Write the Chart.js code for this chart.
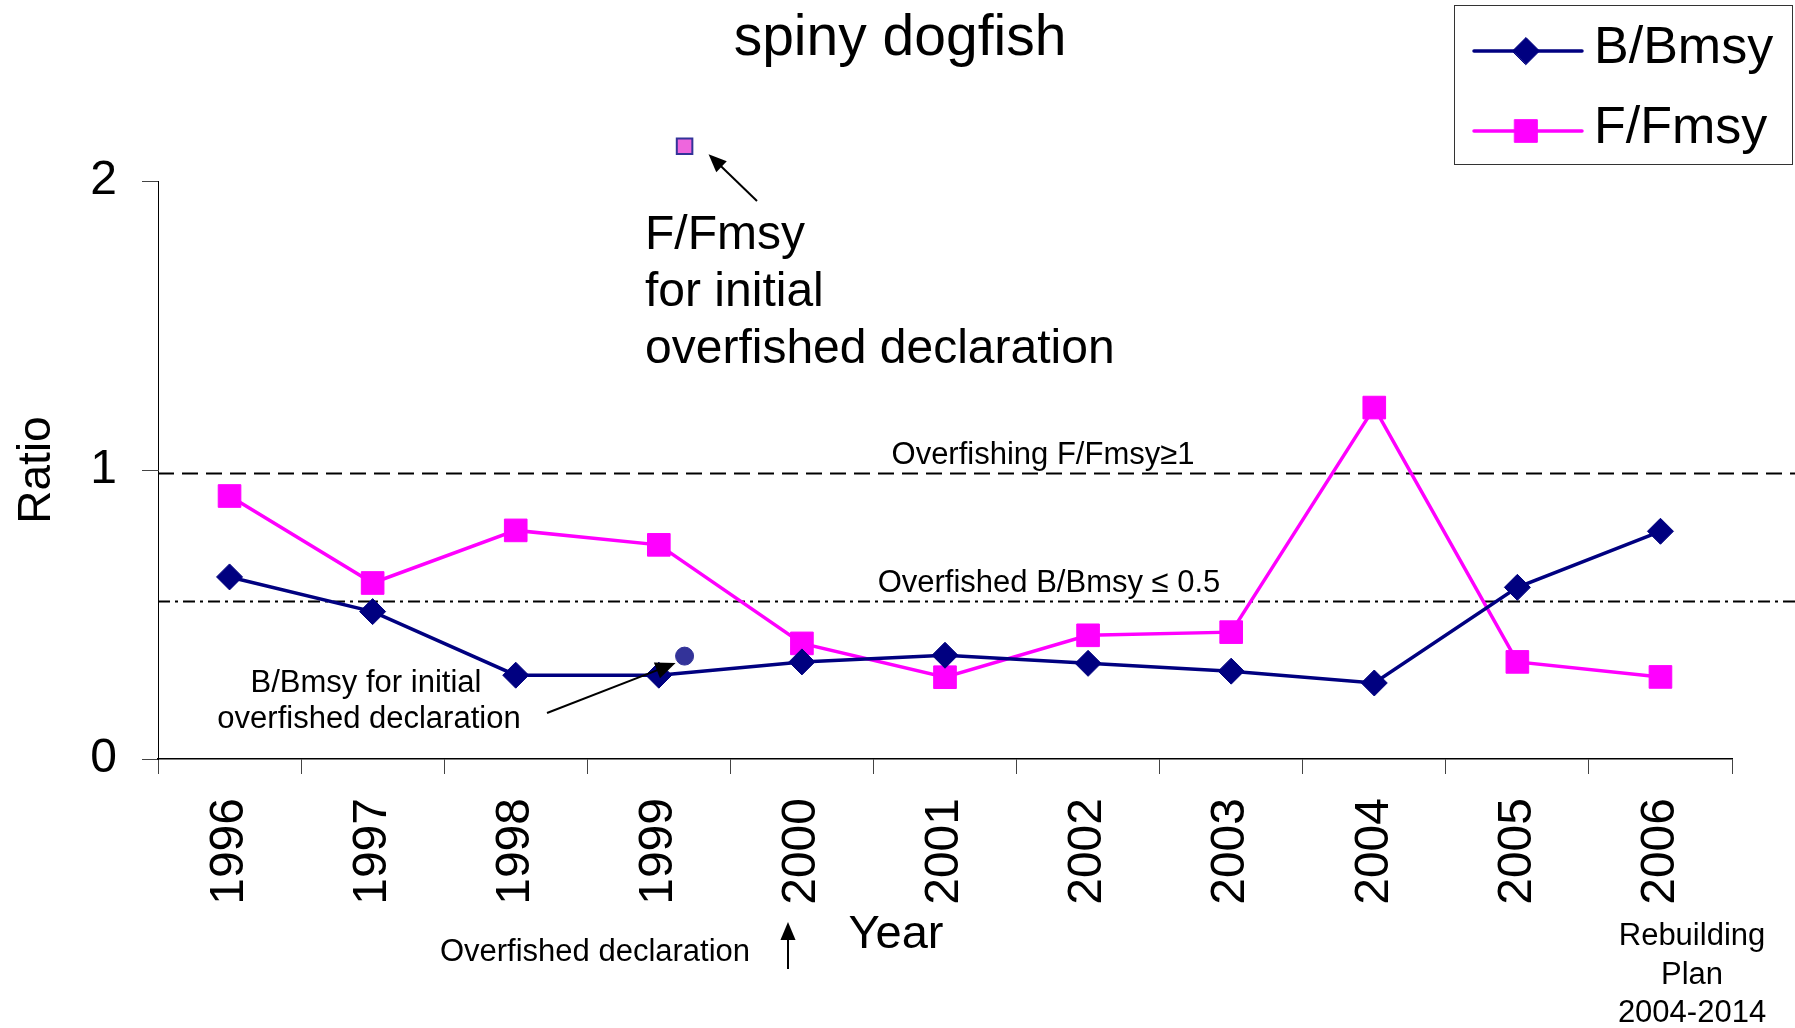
<!DOCTYPE html>
<html>
<head>
<meta charset="utf-8">
<title>spiny dogfish</title>
<script src="https://cdn.jsdelivr.net/npm/chart.js@4.4.0/dist/chart.umd.min.js"></script>
<style>
    html, body { margin: 0; padding: 0; background: #fff; }
    #wrap { width: 1795px; height: 1028px; }
</style>
</head>
<body>
<div id="wrap"><canvas id="myChart" width="1795" height="1028"></canvas></div>
<script>
//-------------------------------------------------- Data
const years = ['1996', '1997', '1998', '1999', '2000', '2001', '2002', '2003', '2004', '2005', '2006'];
const bBmsy = [0.63, 0.51, 0.29, 0.29, 0.336, 0.359, 0.331, 0.304, 0.263, 0.594, 0.788];
const fFmsy = [0.91, 0.609, 0.791, 0.741, 0.40, 0.283, 0.428, 0.439, 1.216, 0.336, 0.284];
const yTicks = [0, 1, 2];
// reference levels drawn across the plot
const overfishingLevel = 0.99;
const overfishedLevel = 0.547;
// values at the initial overfished declaration (between 1999 and 2000)
const initialF = [{ x: 3.18, y: 2.12 }];
const initialB = [{ x: 3.18, y: 0.356 }];
//^^^^^^^^^^^^^^^^^^^^^^^^^^^^^^^^^^^^^^^^^^^^^^^^^^ Data

const FONT = '"Liberation Sans", Arial, Helvetica, sans-serif';
const NAVY = '#000080';
const PINK = '#FF00FF';

function font(size) {
    return size + 'px ' + FONT;
}

// straight arrow with a filled head at (x2, y2)
function arrow(ctx, x1, y1, x2, y2, head) {
    const a = Math.atan2(y2 - y1, x2 - x1);
    const w = head * 0.42;
    ctx.beginPath();
    ctx.moveTo(x1, y1);
    ctx.lineTo(x2 - Math.cos(a) * head * 0.8, y2 - Math.sin(a) * head * 0.8);
    ctx.stroke();
    ctx.beginPath();
    ctx.moveTo(x2, y2);
    ctx.lineTo(x2 - head * Math.cos(a) + w * Math.sin(a), y2 - head * Math.sin(a) - w * Math.cos(a));
    ctx.lineTo(x2 - head * Math.cos(a) - w * Math.sin(a), y2 - head * Math.sin(a) + w * Math.cos(a));
    ctx.closePath();
    ctx.fill();
}

function lines(ctx, arr, x, y, step) {
    arr.forEach((t, i) => ctx.fillText(t, x, y + i * step));
}

const decorations = {
    id: 'decorations',
    beforeDatasetsDraw(chart) {
        const ctx = chart.ctx;
        const ys = chart.scales.y;
        const left = chart.chartArea.left;
        ctx.save();
        ctx.strokeStyle = '#000';
        ctx.lineWidth = 2;
        // overfishing line
        let py = Math.round(ys.getPixelForValue(overfishingLevel)) + 0.5;
        ctx.setLineDash([16, 8]);
        ctx.beginPath(); ctx.moveTo(left, py); ctx.lineTo(chart.width, py); ctx.stroke();
        ctx.fillStyle = '#000';
        ctx.font = font(31);
        ctx.textAlign = 'center';
        ctx.textBaseline = 'alphabetic';
        ctx.fillText('Overfishing F/Fmsy\u22651', 1043, py - 10);
        // overfished line
        py = Math.round(ys.getPixelForValue(overfishedLevel)) + 0.5;
        ctx.setLineDash([12, 5, 3, 5]);
        ctx.beginPath(); ctx.moveTo(left, py); ctx.lineTo(chart.width, py); ctx.stroke();
        ctx.fillText('Overfished B/Bmsy \u2264 0.5', 1049, py - 10);
        ctx.restore();
    },
    afterDraw(chart) {
        const ctx = chart.ctx;
        const x2 = chart.scales.x2;
        const ys = chart.scales.y;
        ctx.save();
        ctx.fillStyle = '#000';
        ctx.strokeStyle = '#000';
        ctx.textBaseline = 'alphabetic';

        // title
        ctx.textAlign = 'center';
        ctx.font = font(57);
        ctx.fillText('spiny dogfish', 900, 55);

        // y axis title
        ctx.save();
        ctx.translate(50, 470);
        ctx.rotate(-Math.PI / 2);
        ctx.font = font(46);
        ctx.fillText('Ratio', 0, 0);
        ctx.restore();

        // x axis title
        ctx.font = font(47);
        ctx.fillText('Year', 896, 948);

        // notes under the axis
        ctx.font = font(31);
        ctx.fillText('Overfished declaration', 595, 961);
        lines(ctx, ['Rebuilding', 'Plan', '2004-2014'], 1692, 945, 38.5);
        ctx.fillText('B/Bmsy for initial', 366, 692);
        ctx.fillText('overfished declaration', 369, 728);

        ctx.textAlign = 'left';
        ctx.font = font(48);
        lines(ctx, ['F/Fmsy', 'for initial', 'overfished declaration'], 645, 249, 57);

        // F/Fmsy marker at the initial declaration, above the top of the y range
        const fx = x2.getPixelForValue(initialF[0].x);
        const fy = ys.getPixelForValue(initialF[0].y);
        ctx.fillStyle = '#EE66DD';
        ctx.strokeStyle = '#333399';
        ctx.lineWidth = 2;
        Chart.helpers.drawPoint(ctx, { pointStyle: 'rect', radius: 11, borderWidth: 2, rotation: 0 }, fx, fy);

        // arrows
        ctx.fillStyle = '#000';
        ctx.strokeStyle = '#000';
        ctx.lineWidth = 2;
        arrow(ctx, 788, 969, 788, 922, 18);
        arrow(ctx, 757, 201, fx + 24, fy + 8, 18);
        const bx = x2.getPixelForValue(initialB[0].x);
        const by = ys.getPixelForValue(initialB[0].y);
        arrow(ctx, 547, 713, bx - 9, by + 7, 20);

        // legend box
        ctx.lineWidth = 1;
        ctx.strokeStyle = '#333';
        ctx.strokeRect(1454.5, 5.5, 338, 159);
        const items = [
            { label: 'B/Bmsy', color: NAVY, style: 'rectRot', r: 13.5, y: 51, base: 63 },
            { label: 'F/Fmsy', color: PINK, style: 'rect', r: 16, y: 131, base: 143 }
        ];
        items.forEach(it => {
            ctx.strokeStyle = it.color;
            ctx.lineWidth = 3.5;
            ctx.lineCap = 'round';
            ctx.beginPath(); ctx.moveTo(1474, it.y); ctx.lineTo(1582, it.y); ctx.stroke();
            ctx.fillStyle = it.color;
            ctx.lineWidth = 1;
            Chart.helpers.drawPoint(ctx, { pointStyle: it.style, radius: it.r, borderWidth: 1, rotation: 0 }, 1526, it.y);
            ctx.fillStyle = '#000';
            ctx.font = font(52);
            ctx.textAlign = 'left';
            ctx.fillText(it.label, 1594, it.base);
        });
        ctx.restore();
    }
};

new Chart(document.getElementById('myChart'), {
    type: 'line',
    data: {
        labels: years,
        datasets: [
            {
                label: 'B/Bmsy',
                data: bBmsy,
                borderColor: NAVY,
                backgroundColor: NAVY,
                borderWidth: 3.5,
                pointStyle: 'rectRot',
                pointRadius: 13,
                pointHoverRadius: 13,
                pointBorderWidth: 1,
                tension: 0
            },
            {
                label: 'F/Fmsy',
                data: fFmsy,
                borderColor: PINK,
                backgroundColor: PINK,
                borderWidth: 3.5,
                pointStyle: 'rect',
                pointRadius: 16,
                pointHoverRadius: 16,
                pointBorderWidth: 1,
                tension: 0
            },
            {
                type: 'scatter',
                label: 'B/Bmsy initial',
                data: initialB,
                xAxisID: 'x2',
                pointStyle: 'circle',
                pointRadius: 9,
                backgroundColor: '#333399',
                borderColor: '#333399',
                clip: false
            }
        ]
    },
    options: {
        responsive: false,
        animation: false,
        devicePixelRatio: 1,
        layout: { padding: { top: 181, right: 63, bottom: 0, left: 0 } },
        plugins: {
            legend: { display: false },
            title: { display: false },
            tooltip: { enabled: false }
        },
        scales: {
            x: {
                type: 'category',
                offset: true,
                grid: { offset: true, drawOnChartArea: false, drawTicks: true, tickLength: 15, color: '#444' },
                border: { display: true, color: '#000', width: 1.5 },
                ticks: {
                    color: '#000',
                    font: { family: FONT, size: 48 },
                    minRotation: 90,
                    maxRotation: 90,
                    padding: 24,
                    autoSkip: false
                },
                afterFit(scale) { scale.height = 269; }
            },
            x2: {
                type: 'linear',
                display: false,
                min: -0.5,
                max: years.length - 0.5
            },
            y: {
                min: 0,
                max: 2,
                afterBuildTicks(scale) { scale.ticks = yTicks.map(v => ({ value: v })); },
                grid: { drawOnChartArea: false, drawTicks: true, tickLength: 16, color: '#444' },
                border: { display: true, color: '#000', width: 1 },
                ticks: {
                    color: '#000',
                    font: { family: FONT, size: 48 },
                    padding: 25
                },
                afterFit(scale) { scale.width = 158; }
            }
        }
    },
    plugins: [decorations]
});
</script>
</body>
</html>
